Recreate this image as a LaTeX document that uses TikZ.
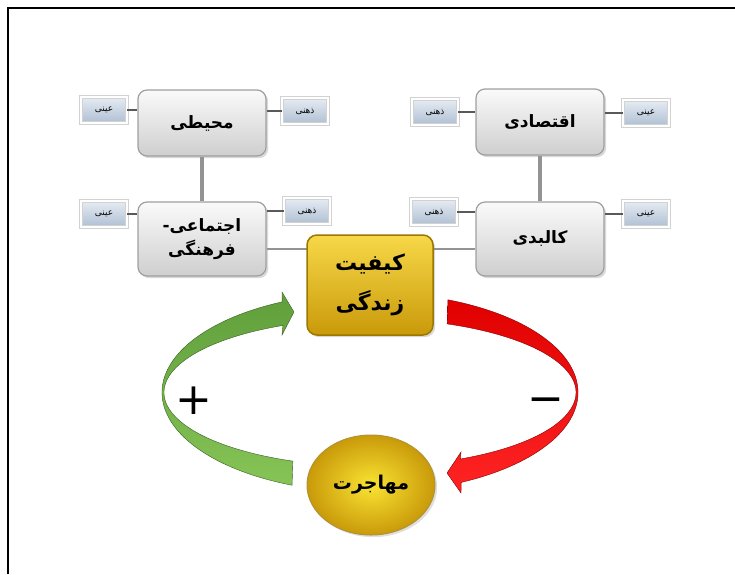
\documentclass[tikz,border=0pt]{standalone}
\usepackage{fontspec}
\usetikzlibrary{shadows,shapes.geometric}
\newfontfamily\fa[Script=Arabic]{DejaVu Sans}
\TeXXeTstate=1
\definecolor{kindtop}{HTML}{E6ECF3}
\definecolor{kindbot}{HTML}{AEBFD3}
\definecolor{goldtop}{HTML}{F7D848}
\definecolor{goldbot}{HTML}{C99A0A}
\definecolor{goldrim}{HTML}{9C7800}
\definecolor{plusgreen}{HTML}{5F9E3A}
\definecolor{plusgreenb}{HTML}{86C457}
\definecolor{minusred}{HTML}{E00000}
\definecolor{minusredb}{HTML}{FF2424}

\begin{document}
\begin{tikzpicture}[x=1pt,y=1pt,
        factor/.style={rounded corners=9pt,draw=gray!75,line width=1.2pt,top color=gray!4,bottom color=gray!38,
            minimum width=128pt,minimum height=66pt,align=center,
            font=\fa\bfseries\fontsize{17}{24}\selectfont,drop shadow={opacity=0.3}},
        kind/.style={draw=gray!35,line width=0.6pt,double=white,double distance=2.8pt,top color=kindtop,bottom color=kindbot,
            minimum width=46pt,minimum height=26pt,font=\fa\fontsize{9}{10}\selectfont,
            drop shadow={opacity=0.25,shadow xshift=1pt,shadow yshift=-1.5pt}},
        link/.style={draw=gray!70!black,line width=1.3pt},
        bar/.style={draw=gray!85,line width=3.5pt}]
    \useasboundingbox(0,0)rectangle(735,-574);
    \draw[line width=2.5pt](8,-574)--(8,-8)--(735,-8);

    % four factors
    \node[factor](env)at(202,-123){\beginR محیطی\endR};
    \node[factor,minimum height=74pt](soc)at(202,-239){\beginR اجتماعی-\endR\\\beginR فرهنگی\endR};
    \node[factor](eco)at(540,-122){\beginR اقتصادی\endR};
    \node[factor,minimum height=74pt](phys)at(540,-239){\beginR کالبدی\endR};

    \draw[bar](env)--(soc);
    \draw[bar](eco)--(phys);

    % objective / subjective
    \node[kind](envL)at(104,-110){\beginR عینی\endR};
    \node[kind](envR)at(305,-111){\beginR ذهنی\endR};
    \node[kind](socL)at(104,-214){\beginR عینی\endR};
    \node[kind](socR)at(307,-211){\beginR ذهنی\endR};
    \node[kind](ecoL)at(435,-112){\beginR ذهنی\endR};
    \node[kind](ecoR)at(646,-113){\beginR عینی\endR};
    \node[kind](physL)at(434,-212){\beginR ذهنی\endR};
    \node[kind](physR)at(646,-214){\beginR عینی\endR};

    \draw[link](envL.east)--(envL.east-|env.west);
    \draw[link](envR.west)--(envR.west-|env.east);
    \draw[link](socL.east)--(socL.east-|soc.west);
    \draw[link](socR.west)--(socR.west-|soc.east);
    \draw[link](ecoL.east)--(ecoL.east-|eco.west);
    \draw[link](ecoR.west)--(ecoR.west-|eco.east);
    \draw[link](physL.east)--(physL.east-|phys.west);
    \draw[link](physR.west)--(physR.west-|phys.east);

    % quality of life and migration
    \draw[link,line width=2.5pt,draw=gray!85]([yshift=-10pt]soc.east)--([yshift=-10pt]phys.west);
    \node[rounded corners=10pt,draw=goldrim,line width=1.5pt,top color=goldtop,bottom color=goldbot,
        minimum width=126pt,minimum height=100pt,align=center,drop shadow={opacity=0.3},
        font=\fa\bfseries\fontsize{22}{40}\selectfont](qual)at(370,-285){\beginR کیفیت\endR\\\beginR زندگی\endR};
    \node[ellipse,draw=goldrim!80,line width=1pt,inner color=goldtop!70!yellow,outer color=goldbot,
        minimum width=128pt,minimum height=100pt,drop shadow={opacity=0.25},
        font=\fa\bfseries\fontsize{19}{22}\selectfont](migr)at(371,-485){\beginR مهاجرت\endR};

    % feedback loop
    \coordinate(o)at(370,-392.5);
    \shade[top color=plusgreen,bottom color=plusgreenb,draw=plusgreen!60!black,line width=0.4pt]
        ([shift={(o)}]248:208 and 100)arc[start angle=248,end angle=115,x radius=208,y radius=100]
        --(282,-292)--(294,-312)--(282,-335)
        --([shift={(o)}]115:206 and 74)arc[start angle=115,end angle=248,x radius=206,y radius=74]--cycle;
    \shade[top color=minusred,bottom color=minusredb,draw=minusred!60!black,line width=0.4pt]
        ([shift={(o)}]68:208 and 100)arc[start angle=68,end angle=-64,x radius=208,y radius=100]
        --(461,-493)--(447,-473)--(461,-452)
        --([shift={(o)}]-64:206 and 74)arc[start angle=-64,end angle=68,x radius=206,y radius=74]--cycle;
    \node(plus)at(194,-401){\fa\fontsize{44}{44}\selectfont +};
    \node(minus)at(546,-406){\fa\fontsize{44}{44}\selectfont −};
\end{tikzpicture}
\end{document}
